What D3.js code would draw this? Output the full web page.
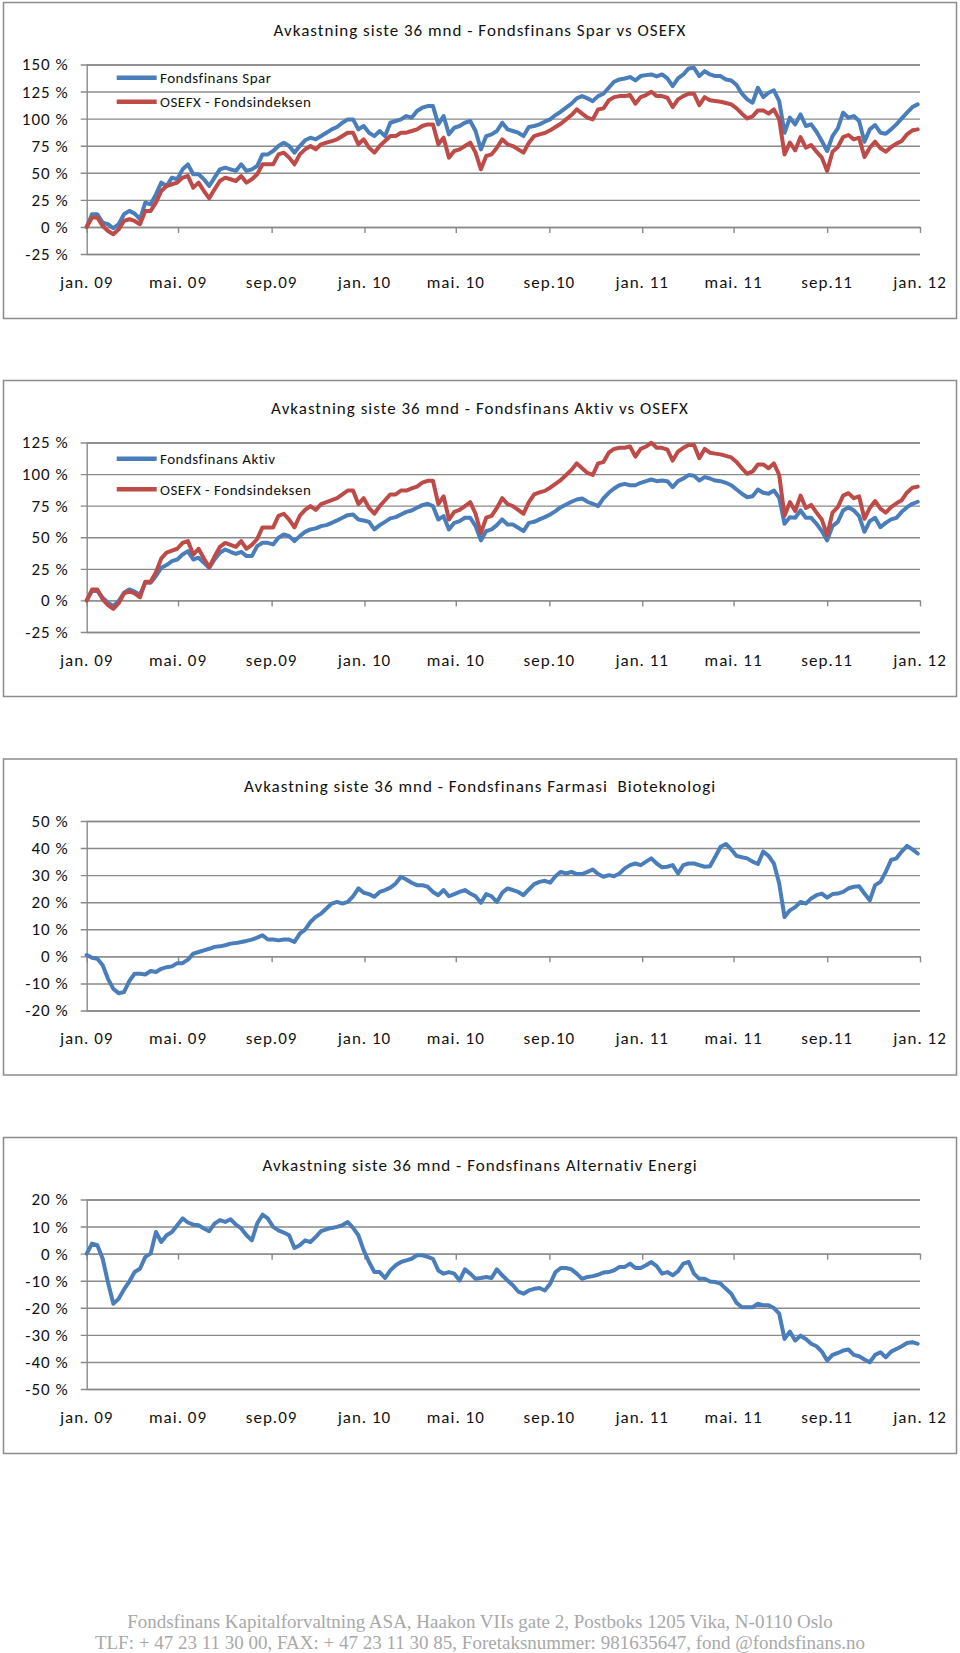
<!DOCTYPE html>
<html><head><meta charset="utf-8">
<script src="https://cdn.jsdelivr.net/npm/d3@7/dist/d3.min.js"></script>
<style>body{margin:0;background:#fff}svg{display:block}text{white-space:pre}</style>
</head><body>
<svg id="c" width="960" height="1653"></svg>
<script>
// ---------- DATA ----------
const tickLabels = ["jan. 09","mai. 09","sep.09","jan. 10","mai. 10","sep.10","jan. 11","mai. 11","sep.11","jan. 12"];

const yTicksSpar = [-25, 0, 25, 50, 75, 100, 125, 150];
const yTicksAktiv = [-25, 0, 25, 50, 75, 100, 125];
const yTicksFarmasi = [-20, -10, 0, 10, 20, 30, 40, 50];
const yTicksEnergi = [-50, -40, -30, -20, -10, 0, 10, 20];

// weekly observations, Jan 2009 - Dec 2011 (percent return)
const spar = [
 0, 11.7, 11.7, 4.0, 2.5, -1.2, 2.5, 11.7, 14.8, 12.3,
 7.1, 22.4, 20.9, 30.1, 40.9, 37.8, 45.5, 44.0, 53.2, 57.8,
 48.6, 48.6, 44.0, 37.8, 45.5, 53.2, 54.7, 53.2, 51.7, 57.8,
 51.7, 53.2, 56.3, 67.0, 67.0, 70.1, 74.7, 77.8, 74.7, 68.6,
 74.7, 80.0, 82.4, 80.9, 83.9, 87.0, 90.1, 92.3, 96.2, 99.3,
 99.3, 90.1, 93.2, 87.0, 83.9, 88.6, 83.9, 96.2, 97.8, 99.3,
 102.4, 100.9, 107.0, 110.1, 111.6, 111.6, 94.7, 102.4, 85.5, 91.6,
 93.2, 96.2, 97.8, 88.6, 71.6, 83.9, 85.5, 88.6, 96.2, 90.1,
 88.6, 87.0, 83.9, 92.3, 93.2, 94.7, 97.2, 99.3, 103.3, 106.4,
 110.1, 113.8, 118.7, 120.8, 118.7, 116.2, 120.8, 123.0, 128.5, 134.1,
 136.2, 137.1, 138.4, 135.3, 139.3, 140.2, 140.8, 139.0, 140.8, 137.1,
 130.1, 137.1, 140.8, 146.4, 147.0, 139.3, 143.9, 140.8, 139.3, 139.3,
 136.2, 135.3, 131.0, 123.0, 117.8, 114.7, 128.5, 119.9, 123.9, 126.1,
 116.2, 87.0, 100.9, 94.7, 103.9, 93.2, 94.7, 87.9, 79.3, 70.1,
 83.9, 91.0, 105.5, 100.9, 102.4, 97.8, 78.7, 90.1, 94.1, 87.0,
 86.1, 90.1, 94.7, 100.2, 105.5, 110.7, 113.2
];

const osefx = [
 0, 8.6, 8.6, 0.9, -3.7, -6.8, -2.2, 5.5, 7.1, 5.5,
 2.5, 14.8, 14.8, 22.4, 33.2, 37.8, 39.4, 40.9, 45.5, 47.0,
 36.3, 40.9, 33.2, 26.4, 34.7, 42.4, 45.5, 44.0, 42.4, 47.0,
 40.9, 44.0, 48.6, 57.8, 57.8, 57.8, 67.0, 68.6, 64.0, 57.8,
 67.0, 71.6, 74.7, 71.6, 76.3, 77.8, 79.3, 80.9, 83.9, 87.0,
 87.0, 76.3, 80.9, 73.2, 68.6, 74.7, 79.3, 83.9, 83.9, 87.0,
 87.0, 88.6, 90.1, 93.2, 94.7, 94.7, 76.3, 82.4, 64.0, 70.1,
 71.6, 74.7, 77.8, 68.6, 53.2, 65.5, 67.0, 73.2, 80.9, 76.3,
 74.7, 71.6, 68.6, 77.8, 83.9, 85.5, 86.7, 89.2, 92.3, 95.3,
 99.3, 103.3, 108.5, 104.6, 100.9, 99.3, 108.5, 109.5, 116.9, 119.9,
 120.8, 120.8, 121.8, 113.8, 119.9, 121.8, 124.8, 120.8, 120.8, 119.3,
 110.7, 117.8, 120.8, 123.0, 123.0, 112.5, 119.9, 116.9, 116.2, 115.6,
 114.4, 113.2, 109.5, 104.6, 100.2, 102.1, 107.6, 107.6, 104.6, 108.5,
 99.3, 67.0, 77.8, 70.7, 83.0, 73.2, 75.6, 69.5, 64.0, 51.7,
 69.5, 73.8, 83.0, 84.9, 80.9, 82.4, 64.6, 73.2, 78.7, 72.6,
 69.5, 73.8, 76.9, 79.3, 85.5, 89.2, 90.1
];

const aktiv = [
 0, 7.4, 7.4, 2.1, -1.8, -4.5, -0.5, 6.1, 8.7, 6.9,
 4.7, 14.0, 14.0, 19.3, 25.8, 28.0, 31.1, 32.4, 36.4, 39.0,
 32.4, 33.8, 29.8, 25.8, 32.4, 37.7, 40.3, 38.5, 36.9, 38.5,
 35.1, 35.1, 43.0, 45.6, 45.6, 44.3, 49.6, 52.2, 50.9, 46.9,
 50.9, 54.3, 56.2, 57.0, 58.8, 59.6, 61.4, 63.3, 65.4, 67.5,
 68.0, 64.1, 63.3, 62.2, 56.2, 59.6, 62.2, 64.9, 65.9, 68.0,
 70.1, 71.2, 73.3, 75.4, 76.5, 74.6, 64.1, 66.7, 56.2, 61.4,
 62.8, 65.4, 65.4, 58.8, 47.5, 54.9, 56.2, 59.6, 64.1, 60.1,
 60.1, 57.5, 54.9, 61.4, 62.2, 64.1, 65.9, 68.0, 70.7, 73.8,
 75.9, 78.1, 79.9, 80.7, 78.1, 76.5, 74.6, 80.7, 85.2, 88.6,
 91.2, 92.3, 91.2, 91.2, 93.1, 94.4, 95.7, 94.4, 94.9, 94.4,
 89.7, 94.4, 96.5, 99.2, 98.6, 94.9, 97.6, 96.5, 94.9, 94.4,
 93.1, 91.2, 87.8, 84.4, 81.7, 82.5, 87.8, 85.2, 84.4, 87.0,
 81.2, 60.7, 65.9, 65.4, 71.2, 65.4, 65.4, 60.7, 54.9, 47.5,
 58.8, 62.2, 71.2, 73.8, 71.2, 66.7, 54.3, 62.8, 65.4, 58.0,
 61.4, 64.1, 65.4, 70.1, 73.8, 76.5, 78.1
];

const farmasi = [
 0.5, -0.5, -0.9, -3.3, -8.3, -12.0, -13.6, -13.2, -9.1, -6.4,
 -6.4, -6.7, -5.4, -5.8, -4.6, -4.0, -3.7, -2.5, -2.5, -1.2,
 1.0, 1.6, 2.2, 2.8, 3.5, 3.7, 4.1, 4.7, 4.9, 5.3,
 5.7, 6.2, 6.9, 7.8, 6.2, 6.2, 5.9, 6.2, 6.2, 5.3,
 8.4, 9.9, 12.7, 14.6, 15.8, 17.7, 19.5, 20.1, 19.5, 20.1,
 22.2, 25.1, 23.5, 23.0, 22.0, 23.8, 24.5, 25.4, 26.9, 29.4,
 28.4, 27.2, 26.3, 26.3, 25.7, 23.8, 22.6, 24.5, 22.2, 23.0,
 23.8, 24.5, 23.2, 22.2, 19.8, 23.0, 22.2, 20.1, 23.5, 25.1,
 24.5, 23.8, 22.6, 24.7, 26.7, 27.5, 27.9, 27.2, 29.6, 31.2,
 30.6, 31.2, 30.4, 30.4, 31.2, 32.1, 30.4, 29.4, 30.0, 29.6,
 30.6, 32.5, 33.7, 34.3, 33.7, 35.0, 36.2, 34.3, 32.9, 33.1,
 33.7, 30.6, 33.7, 34.3, 34.3, 33.7, 33.1, 33.3, 36.8, 40.5,
 41.5, 39.5, 37.1, 36.6, 36.2, 35.0, 34.1, 38.7, 37.1, 34.3,
 26.9, 14.5, 17.0, 18.2, 20.1, 19.5, 21.4, 22.6, 23.2, 21.7,
 23.0, 23.2, 23.8, 25.1, 25.7, 25.9, 23.2, 20.7, 26.3, 27.5,
 31.2, 35.6, 36.2, 38.7, 40.8, 39.5, 38.0
];

const altEnergi = [
 0, 3.7, 3.1, -1.9, -10.7, -18.5, -16.7, -13.2, -10.3, -6.8,
 -5.6, -1.2, 0, 8.0, 4.3, 6.8, 8.0, 10.5, 13.0, 11.5,
 10.7, 10.5, 9.3, 8.3, 11.1, 12.4, 11.7, 12.7, 10.7, 9.3,
 6.8, 4.9, 11.1, 14.4, 13.0, 9.9, 8.6, 7.8, 6.8, 2.1,
 3.1, 4.9, 4.3, 6.2, 8.3, 9.0, 9.5, 9.9, 10.5, 11.7,
 9.5, 6.8, 1.2, -3.1, -6.8, -6.8, -9.0, -6.2, -4.3, -3.1,
 -2.5, -1.9, -0.6, -0.6, -1.2, -1.9, -6.2, -7.4, -6.8, -7.4,
 -9.9, -5.8, -7.4, -9.3, -9.0, -8.6, -9.0, -5.8, -8.0, -9.9,
 -11.7, -14.0, -14.8, -13.6, -13.0, -12.7, -13.6, -11.1, -6.8, -5.3,
 -5.3, -5.8, -7.4, -9.3, -8.6, -8.3, -7.8, -7.0, -6.8, -6.2,
 -4.9, -4.9, -3.7, -5.3, -5.3, -4.3, -3.1, -4.6, -7.4, -6.8,
 -8.0, -6.5, -3.7, -3.1, -7.4, -9.3, -9.3, -10.3, -10.5, -11.1,
 -13.0, -14.8, -18.2, -19.8, -19.8, -19.8, -18.5, -19.1, -19.1, -20.1,
 -22.2, -31.5, -28.8, -32.1, -30.3, -31.5, -33.3, -34.2, -36.2, -39.5,
 -37.4, -36.7, -35.8, -35.4, -37.4, -37.9, -39.1, -40.1, -37.4, -36.4,
 -38.3, -36.2, -35.2, -34.2, -33.0, -32.7, -33.3
];

const footerLines = [
 "Fondsfinans Kapitalforvaltning ASA, Haakon VIIs gate 2, Postboks 1205 Vika, N-0110 Oslo",
 "TLF: + 47 23 11 30 00, FAX: + 47 23 11 30 85, Foretaksnummer: 981635647, fond @fondsfinans.no"
];

// ---------- DRAWING ----------
const BLUE = "#4a7ebb", RED = "#be4b48", GRID = "#8a8a8a";
const FONT = "Carlito, Calibri, Lato, sans-serif";
const startDate = new Date(2009, 0, 1), endDate = new Date(2012, 0, 1);
const dates = spar.map((_, i) => d3.timeDay.offset(startDate, 7 * i));

const charts = [
  {top: 2, title: "Avkastning siste 36 mnd - Fondsfinans Spar vs OSEFX", yTicks: yTicksSpar,
   series: [{name: "Fondsfinans Spar", values: spar, color: BLUE}, {name: "OSEFX - Fondsindeksen", values: osefx, color: RED}],
   legendY: [75.7, 99.7]},
  {top: 380, title: "Avkastning siste 36 mnd - Fondsfinans Aktiv vs OSEFX", yTicks: yTicksAktiv,
   series: [{name: "Fondsfinans Aktiv", values: aktiv, color: BLUE}, {name: "OSEFX - Fondsindeksen", values: osefx, color: RED}],
   legendY: [78.7, 109.3]},
  {top: 758.5, title: "Avkastning siste 36 mnd - Fondsfinans Farmasi  Bioteknologi", yTicks: yTicksFarmasi,
   series: [{name: "Fondsfinans Farmasi Bioteknologi", values: farmasi, color: BLUE}], legendY: null},
  {top: 1137, title: "Avkastning siste 36 mnd - Fondsfinans Alternativ Energi", yTicks: yTicksEnergi,
   series: [{name: "Fondsfinans Alternativ Energi", values: altEnergi, color: BLUE}], legendY: null}
];

const svg = d3.select("#c");
svg.append("rect").attr("width", 960).attr("height", 1653).attr("fill", "#fff");

const X0 = 86.7, X1 = 920;
const x = d3.scaleTime().domain([startDate, endDate]).range([X0, X1]);
const monthTicks = d3.timeMonth.every(4).range(startDate, d3.timeDay.offset(endDate, 1));

function styleText(sel, size, ls) {
  sel.attr("font-family", FONT).attr("font-size", size).attr("letter-spacing", ls).attr("fill", "#111");
}

charts.forEach(c => {
  const g = svg.append("g");
  const T = c.top;
  g.append("rect").attr("x", 3.5).attr("y", T + 0.5).attr("width", 953).attr("height", 316)
    .attr("fill", "#fff").attr("stroke", "#8c8c8c").attr("stroke-width", 1.5);

  g.append("text").attr("x", 480).attr("y", T + 28).attr("dy", "0.35em")
    .attr("text-anchor", "middle").text(c.title).call(styleText, 17, 1);

  const pTop = T + 62.5, pBot = T + 252;
  const y = d3.scaleLinear().domain(d3.extent(c.yTicks)).range([pBot, pTop]);

  // gridlines + y axis
  const ya = d3.axisLeft(y).tickValues(c.yTicks).tickSize(-(X1 - X0)).tickPadding(0)
    .tickFormat(d => d + " %");
  const yg = g.append("g").attr("transform", `translate(${X0},0)`).call(ya);
  yg.select(".domain").attr("stroke", GRID).attr("stroke-width", 1.4);
  yg.selectAll(".tick line").attr("x1", -6).attr("stroke", GRID).attr("stroke-width", 1.4);
  yg.selectAll(".tick text").attr("x", -18).attr("text-anchor", "end").call(styleText, 17, 1);

  // x axis at 0
  const xa = d3.axisBottom(x).tickValues(monthTicks).tickSize(6).tickSizeOuter(0).tickFormat("");
  const xg = g.append("g").attr("transform", `translate(0,${y(0)})`).call(xa);
  xg.select(".domain").attr("stroke", GRID).attr("stroke-width", 1.4);
  xg.selectAll(".tick line").attr("stroke", GRID).attr("stroke-width", 1.4);

  // x labels at bottom
  g.selectAll("text.xl").data(monthTicks).join("text").attr("class", "xl")
    .attr("x", d => x(d)).attr("y", pBot + 27.7).attr("dy", "0.35em")
    .attr("text-anchor", "middle").text((d, i) => tickLabels[i]).call(styleText, 17, 1);

  // series
  const line = d3.line().x((d, i) => x(dates[i])).y(d => y(d)).curve(d3.curveLinear);
  c.series.forEach(s => {
    g.append("path").datum(s.values).attr("d", line).attr("fill", "none")
      .attr("stroke", s.color).attr("stroke-width", 4).attr("stroke-linejoin", "round")
      .attr("stroke-linecap", "round");
  });

  // legend
  if (c.legendY) {
    c.series.forEach((s, i) => {
      const ly = T + c.legendY[i];
      g.append("line").attr("x1", 116.7).attr("x2", 156.7).attr("y1", ly).attr("y2", ly)
        .attr("stroke", s.color).attr("stroke-width", 4.5);
      g.append("text").attr("x", 160).attr("y", ly).attr("dy", "0.35em")
        .text(s.name).call(styleText, 15, 0.5);
    });
  }
});

svg.selectAll("text.ft").data(footerLines).join("text").attr("class", "ft")
  .attr("x", 480).attr("y", (d, i) => 1628 + i * 21).attr("text-anchor", "middle")
  .attr("font-family", "Liberation Serif, Times New Roman, serif").attr("font-size", 19)
  .attr("fill", "#a8a8a8").text(d => d);
</script>
</body></html>
